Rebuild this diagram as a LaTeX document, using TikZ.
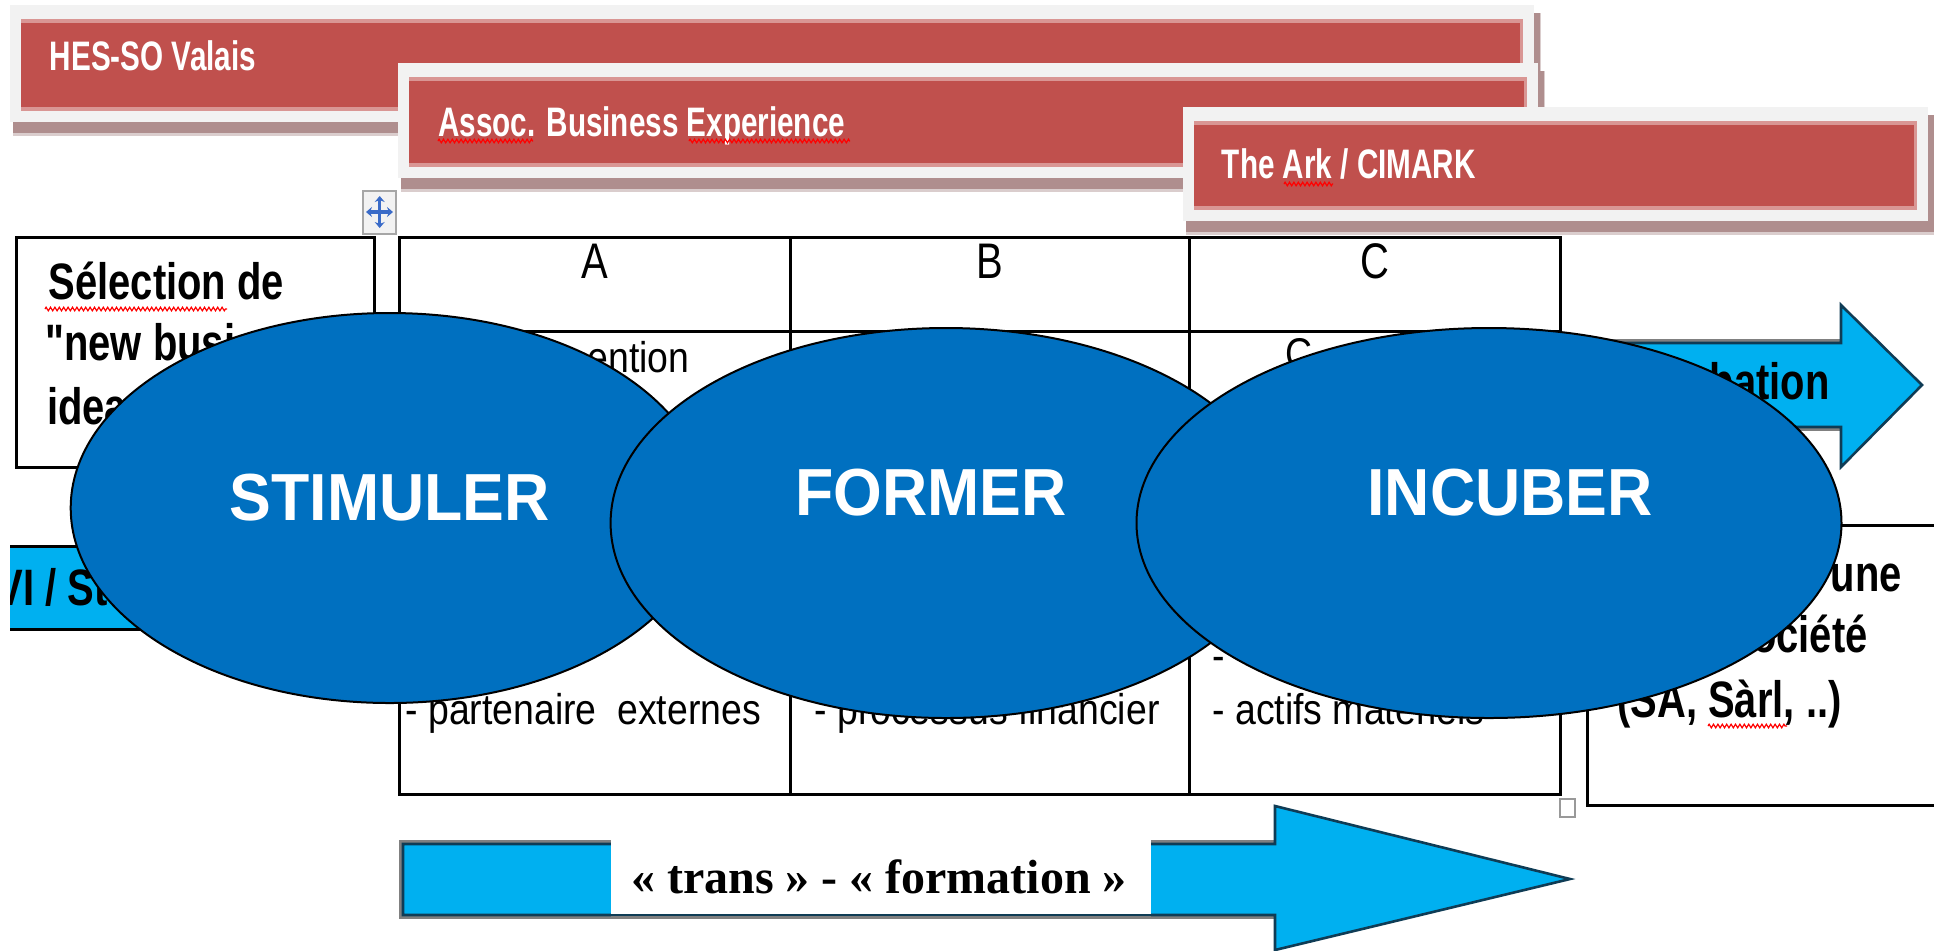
\documentclass[tikz,border=0pt]{standalone}
\usepackage{fontspec}
\setmainfont{Liberation Sans}
\newfontfamily\bannerfont[FakeStretch=0.72]{Liberation Sans}
\newfontfamily\boxfont[FakeStretch=0.78]{Liberation Sans}
\newfontfamily\ellfont[FakeStretch=0.94]{Liberation Sans}
\newfontfamily\cellfont[FakeStretch=0.87]{Liberation Sans}
\newfontfamily\headfont[FakeStretch=0.8]{Liberation Sans}
\newfontfamily\serifbold{Liberation Serif}
\usetikzlibrary{shapes.geometric,arrows.meta,decorations.pathmorphing}
\definecolor{bannerred}{RGB}{192,80,77}
\definecolor{bannerpink}{RGB}{217,150,148}
\definecolor{framegrey}{RGB}{242,242,242}
\definecolor{shadowmauve}{RGB}{175,142,142}
\definecolor{shadowlight}{RGB}{218,205,205}
\definecolor{ellblue}{RGB}{0,112,192}
\definecolor{arrowcyan}{RGB}{0,176,240}
\definecolor{arrowedge}{RGB}{15,60,85}
\definecolor{iconblue}{RGB}{58,107,200}
\tikzset{
  blob/.style={ellipse, fill=ellblue, draw=black, line width=1pt, inner sep=0pt, outer sep=0pt, minimum height=195pt},
  blobtext/.style={text=white, font=\ellfont\bfseries\fontsize{33.3}{40}\selectfont, inner sep=0pt, anchor=base},
  bannertext/.style={text=white, font=\bannerfont\bfseries\fontsize{20.6}{25}\selectfont, inner sep=0pt, anchor=base west},
  boxtext/.style={font=\boxfont\bfseries\fontsize{25.6}{31}\selectfont, inner sep=0pt},
  celltext/.style={font=\cellfont\fontsize{21.5}{26}\selectfont, inner sep=0pt, anchor=base west},
  headtext/.style={font=\headfont\fontsize{25}{30}\selectfont, inner sep=0pt, anchor=base},
  gridline/.style={line width=1.5pt},
  squiggle/.style={red, line width=0.6pt, decorate, decoration={zigzag, segment length=2.2pt, amplitude=0.9pt}},
  arrowbody/.style={fill=arrowcyan, draw=arrowedge, line width=1.3pt, line join=miter},
  arrowhalo/.style={draw=gray, line width=3.6pt, line join=miter},
  movetip/.style={iconblue, line width=1.6pt, {Stealth[length=3pt,width=5pt]}-{Stealth[length=3pt,width=5pt]}},
}
\newcommand\mybanner[4]{%
  \fill[shadowlight] (#1+3,#2+8) rectangle (#3+7,#4+14);
  \fill[shadowmauve] (#1+3,#2+8) rectangle (#3+6,#4+11);
  \fill[framegrey] (#1,#2) rectangle (#3,#4);
  \fill[bannerpink] (#1+11,#2+14) rectangle (#3-11,#4-11);
  \fill[bannerred] (#1+11,#2+18) rectangle (#3-14,#4-15);
}
\begin{document}
\begin{tikzpicture}[x=0.5pt,y=-0.5pt]
\useasboundingbox (0,0) rectangle (1934,950);
\fill[white] (0,0) rectangle (1934,950);
% banners
\mybanner{10}{5}{1534}{122}
\node[bannertext] (hes) at (49.5,70) {HES-SO Valais};
\mybanner{398}{63}{1538}{178}
\node[bannertext] (abe) at (438,136) {Assoc. Business Experience};
\draw[squiggle] (438,141) -- (533,141);
\draw[squiggle] (689,141) -- (850,141);
\mybanner{1183}{107}{1928}{221}
\node[bannertext] (ark) at (1221.5,178) {The Ark / CIMARK};
\draw[squiggle] (1284,184) -- (1333,184);
% move icon
\draw[fill=framegrey, draw=gray!70, line width=1.2pt] (363,191) rectangle (396,234);
\coordinate (mvc) at (379.7,212);
\draw[movetip] (379.7,196) -- (379.7,228);
\draw[movetip] (366,212) -- (393,212);
% table
\draw[gridline] (399,237) rectangle (1560,794);
\draw[gridline] (399,331) -- (1560,331);
\draw[gridline] (790,237) -- (790,794);
\draw[gridline] (1189,237) -- (1189,794);
\node[headtext] (ha) at (594.5,278.7) {A};
\node[headtext] (hb) at (989.5,278.7) {B};
\node[headtext] (hc) at (1374.5,278.7) {C};
\node[celltext, anchor=base east] (a1) at (690,372) {ention};
\node[celltext] (c1) at (1285,368) {C};
\node[celltext] (c2) at (1212,670) {-};
\node[celltext] (a3) at (405,724) {- partenaire\ \ externes};
\node[celltext] (b3) at (814,724) {- processus financier};
\node[celltext] (c3) at (1212,724) {- actifs matériels};
% selection box
\draw[gridline] (16.7,237.3) rectangle (374,467.3);
\node[boxtext, anchor=base west] (s1) at (48.3,299) {Sélection de};
\node[boxtext, anchor=base west] (s2) at (45,360) {"new busi};
\node[boxtext, anchor=base west] (s3) at (46.7,424) {idea};
\draw[squiggle] (45,309) -- (227,309);
% VI bar
\begin{scope}
\clip (10,0) rectangle (1934,950);
\fill[arrowcyan] (0,546) rectangle (250,629);
\draw[gridline] (0,546.5) -- (250,546.5);
\draw[gridline] (0,629) -- (250,629);
\node[boxtext, anchor=base west] (vist) at (-4,605) {VI / St};
\end{scope}
% right box
\draw[gridline] (1945,525) -- (1587,525) -- (1587,805) -- (1945,805);
\node[boxtext, anchor=base east] (r1) at (1902,591) {une};
\node[boxtext, anchor=base east] (r2) at (1868,652) {ociété};
\node[boxtext, anchor=base west] (r3) at (1617,717) {(SA, Sàrl, ..)};
\draw[squiggle] (1708,726) -- (1787,726);
% incubation arrow
\draw[arrowhalo] (1841,343) -- (1600,343) -- (1600,427) -- (1841,427);
\draw[arrowbody] (1600,343) -- (1841,343) -- (1841,305) -- (1922,385) -- (1841,467) -- (1841,427) -- (1600,427) -- cycle;
\node[boxtext, anchor=base east] (inc) at (1830,399) {bation};
% handle
\draw[fill=white, draw=gray!80, line width=1.3pt] (1560,799) rectangle (1575,817);
% ellipses
\node[blob, minimum width=319pt] (stim) at (389.7,508) {};
\node[blobtext] (stimt) at (389.7,520) {STIMULER};
\node[blob, minimum width=335.4pt] (form) at (946,523) {};
\node[blobtext] (formt) at (931,515) {FORMER};
\node[blob, minimum width=352.5pt] (incu) at (1489,523) {};
\node[blobtext] (incut) at (1510,515.5) {INCUBER};
% bottom arrow
\draw[arrowhalo] (1275,844) -- (403,844) -- (403,915) -- (1275,915);
\draw[arrowbody] (403,844) -- (1275,844) -- (1275,806) -- (1570,879) -- (1275,950) -- (1275,915) -- (403,915) -- cycle;
\fill[white] (611,836) rectangle (1151,914);
\draw[gray, line width=1.5pt] (611,917) -- (1151,917);
\node[font=\serifbold\bfseries\fontsize{24}{29}\selectfont, inner sep=0pt, anchor=base] (tf) at (879,893) {« trans » - « formation »};
\end{tikzpicture}
\end{document}
